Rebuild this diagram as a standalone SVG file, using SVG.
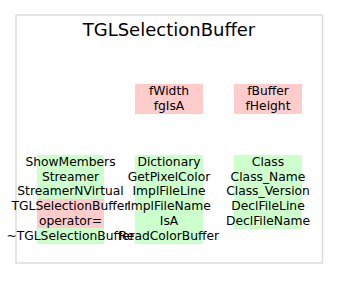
<svg xmlns="http://www.w3.org/2000/svg" width="339" height="291" viewBox="0 0 339 291">
  <style>
    .frame { fill: #ffffff; stroke: #dddddd; stroke-width: 1.5; }
    .title { font-family: "DejaVu Sans", sans-serif; font-size: 18px; fill: #000; text-anchor: middle; }
    .member { font-family: "DejaVu Sans", sans-serif; font-size: 12.3px; fill: #000; text-anchor: middle; }
    .data { fill: #ffcccc; }
    .func { fill: #ccffcc; }
  </style>
  <rect width="339" height="291" fill="#ffffff"/>
  <g id="class-frame">
    <rect class="frame" x="16" y="15" width="306.5" height="248"/>
    <text class="title" x="169" y="36">TGLSelectionBuffer</text>
  </g>
  <g id="data-members-1">
    <rect class="data" x="135" y="84" width="68" height="30"/>
    <text class="member" x="169" y="95">fWidth</text>
    <text class="member" x="169" y="110">fgIsA</text>
  </g>
  <g id="data-members-2">
    <rect class="data" x="234" y="84" width="68" height="30"/>
    <text class="member" x="268" y="95">fBuffer</text>
    <text class="member" x="268" y="110">fHeight</text>
  </g>
  <g id="methods-1">
    <rect class="func" x="37" y="155" width="67" height="89"/>
    <rect class="data" x="37" y="199" width="67" height="29"/>
    <text class="member" x="70.5" y="166">ShowMembers</text>
    <text class="member" x="70.5" y="180.7">Streamer</text>
    <text class="member" x="70.5" y="195.4">StreamerNVirtual</text>
    <text class="member" x="70.5" y="210.1">TGLSelectionBuffer</text>
    <text class="member" x="70.5" y="224.8">operator=</text>
    <text class="member" x="70.5" y="239.5">~TGLSelectionBuffer</text>
  </g>
  <g id="methods-2">
    <rect class="func" x="135" y="155" width="68" height="89"/>
    <text class="member" x="169" y="166">Dictionary</text>
    <text class="member" x="169" y="180.7">GetPixelColor</text>
    <text class="member" x="169" y="195.4">ImplFileLine</text>
    <text class="member" x="169" y="210.1">ImplFileName</text>
    <text class="member" x="169" y="224.8">IsA</text>
    <text class="member" x="169" y="239.5">ReadColorBuffer</text>
  </g>
  <g id="methods-3">
    <rect class="func" x="234" y="155" width="68" height="74"/>
    <text class="member" x="268" y="166">Class</text>
    <text class="member" x="268" y="180.7">Class_Name</text>
    <text class="member" x="268" y="195.4">Class_Version</text>
    <text class="member" x="268" y="210.1">DeclFileLine</text>
    <text class="member" x="268" y="224.8">DeclFileName</text>
  </g>
  <g id="connectors"/>
</svg>
